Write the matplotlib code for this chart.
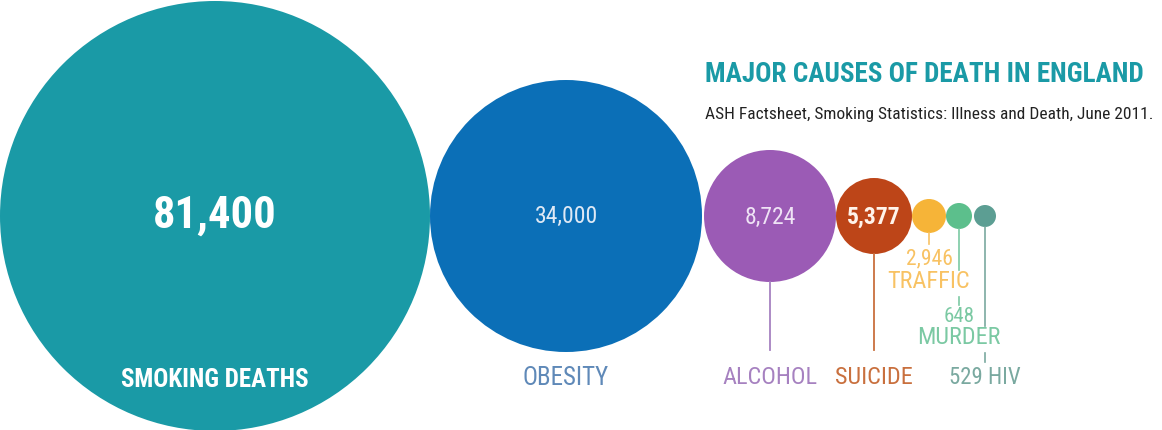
import matplotlib.pyplot as plt
from matplotlib.patches import Circle

# data
causes = ["SMOKING DEATHS", "OBESITY", "ALCOHOL", "SUICIDE", "TRAFFIC", "MURDER", "HIV"]
deaths = [81400, 34000, 8724, 5377, 2946, 648, 529]
title = "MAJOR CAUSES OF DEATH IN ENGLAND"
source = "ASH Factsheet, Smoking Statistics: Illness and Death, June 2011."

# drawn radius (pixels) and colours, as in the infographic
radii = [215, 136, 66, 38, 17, 13, 11]
gaps = [0, 2, 0, 0, 0, 2]
fills = ["#1a9aa6", "#0b6fb7", "#9b5bb5", "#bd4518", "#f6b438", "#5cbf8c", "#5c9e93"]
label_cols = ["#ffffff", "#5f89b8", "#a681c0", "#c9703e", "#f8c263", "#7bc9a3", "#7aa9a0"]
num_cols = ["#ffffff", "#dfe9f5", "#efe3f5", "#fff3ea", "#f8c263", "#7bc9a3", "#7aa9a0"]

plt.rcParams["font.family"] = ["Roboto Condensed", "Roboto", "DejaVu Sans"]

fig = plt.figure(figsize=(11.62, 4.30), dpi=100)
ax = fig.add_axes([0, 0, 1, 1])
ax.set_xlim(0, 1162)
ax.set_ylim(430, 0)
ax.set_aspect("equal")
ax.axis("off")

cy = 216
xs = [radii[0]]
for i in range(1, len(radii)):
    xs.append(xs[-1] + radii[i - 1] + gaps[i - 1] + radii[i])

for x, r, c in zip(xs, radii, fills):
    ax.add_patch(Circle((x, cy), r, color=c, lw=0))

fmt = lambda v: f"{v:,}"

# big ones: labels inside / beneath
ax.text(xs[0], cy, fmt(deaths[0]), color="white", fontsize=32, fontweight="bold",
        ha="center", va="center")
ax.text(xs[0], 380, causes[0], color="white", fontsize=18, fontweight="bold",
        ha="center", va="center")
ax.text(xs[1], cy, fmt(deaths[1]), color=num_cols[1], fontsize=17,
        ha="center", va="center")
ax.text(xs[1], 378, causes[1], color=label_cols[1], fontsize=18,
        ha="center", va="center")

# alcohol and suicide: number inside, label below a leader line
for i in (2, 3):
    ax.text(xs[i], cy + 1, fmt(deaths[i]), color=num_cols[i], fontsize=17,
            fontweight="bold" if i == 3 else "normal", ha="center", va="center")
    ax.plot([xs[i], xs[i]], [cy + radii[i], 350], color=label_cols[i], lw=1.3)
    ax.text(xs[i], 378, causes[i], color=label_cols[i], fontsize=17.5,
            ha="center", va="center")

# small ones: numbers and labels outside
ax.plot([xs[4], xs[4]], [cy + radii[4], 244], color=label_cols[4], lw=1.2)
ax.text(xs[4], 259, fmt(deaths[4]), color=label_cols[4], fontsize=15.5, ha="center", va="center")
ax.text(xs[4], 282, causes[4], color=label_cols[4], fontsize=17.5, ha="center", va="center")

ax.plot([xs[5], xs[5]], [cy + radii[5], 270], color=label_cols[5], lw=1.2)
ax.plot([xs[5], xs[5]], [297, 305], color=label_cols[5], lw=1.2)
ax.text(xs[5], 316, fmt(deaths[5]), color=label_cols[5], fontsize=15, ha="center", va="center")
ax.text(xs[5], 338, causes[5], color=label_cols[5], fontsize=17.5, ha="center", va="center")

ax.plot([xs[6], xs[6]], [cy + radii[6], 326], color=label_cols[6], lw=1.2)
ax.plot([xs[6], xs[6]], [353, 362], color=label_cols[6], lw=1.2)
ax.text(xs[6], 378, f"{deaths[6]} {causes[6]}", color=label_cols[6], fontsize=16.5,
        ha="center", va="center")

ax.text(705, 74, title, color="#1a9aa6", fontsize=19.5, fontweight="bold",
        ha="left", va="center")
ax.text(705, 115, source, color="#222222", fontsize=12.5, ha="left", va="center")

fig.savefig("out.png", dpi=100)
